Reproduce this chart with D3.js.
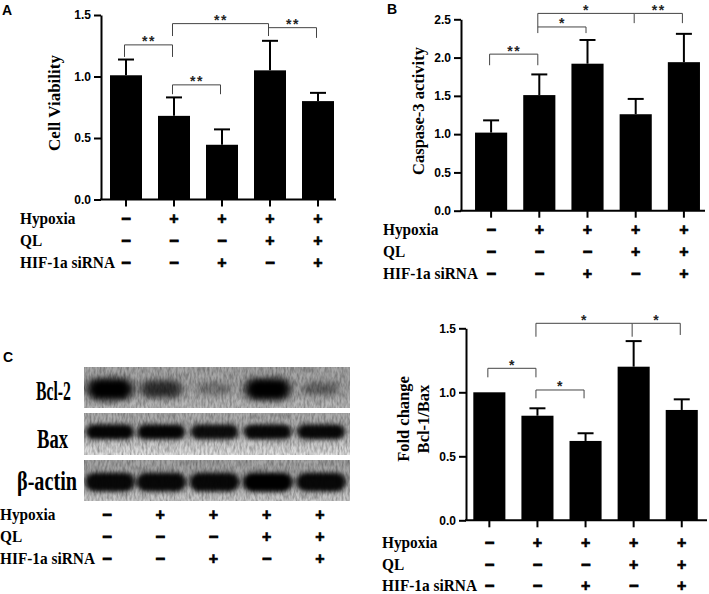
<!DOCTYPE html>
<html>
<head>
<meta charset="utf-8">
<script src="https://cdn.jsdelivr.net/npm/d3@7"></script>
<style>
body{margin:0;background:#fff}
.tick text{font-family:"Liberation Sans",Arial,sans-serif;font-weight:bold;font-size:12px;fill:#000}
.serif{font-family:"Liberation Serif","Times New Roman",serif;font-weight:bold;fill:#000}
.sans{font-family:"Liberation Sans",Arial,sans-serif;font-weight:bold;fill:#000}
</style>
</head>
<body>
<svg id="fig" width="709" height="594"></svg>
<script>
// treatment groups and the +/- table under each panel
var groups = ['ctrl', 'hyp', 'hyp_si', 'hyp_ql', 'hyp_ql_si']
var rowNames = ['Hypoxia', 'QL', 'HIF-1a siRNA']
var hypoxia = ['-', '+', '+', '+', '+']
var ql = ['-', '-', '-', '+', '+']
var sirna = ['-', '-', '+', '-', '+']

// A: cell viability (mean, upper SD)
var viability = [1.01, 0.68, 0.445, 1.05, 0.80]
var viabilityErr = [0.128, 0.15, 0.125, 0.24, 0.067]
// [from, to, label, bracket top, left leg end, right leg end] in data units
var viabilitySig = [
	[0, 1, '**', 1.257, 1.159, 1.159],
	[1, 3, '**', 1.43, 1.329, 1.329],
	[3, 4, '**', 1.397, null, 1.314],
	[1, 2, '**', 0.932, 0.856, 0.856]
]

// B: caspase-3 activity
var caspase = [1.02, 1.51, 1.92, 1.26, 1.94]
var caspaseErr = [0.16, 0.27, 0.31, 0.20, 0.37]
var caspaseSig = [
	[0, 1, '**', 2.045, 1.90, 1.90],
	[1, 2, '*', 2.40, null, 2.32],
	[1, 3, '*', 2.577, 2.32, 2.45],
	[3, 4, '**', 2.577, null, 2.45]
]

// C: western blot band intensities (relative darkness)
var bcl2Band = [1.0, 0.72, 0.32, 1.0, 0.42]
var baxBand = [0.97, 0.97, 0.92, 0.95, 0.95]
var actinBand = [0.95, 0.95, 0.95, 1.0, 0.95]

// D: Bcl-2/Bax fold change
var ratio = [1.0, 0.817, 0.62, 1.2, 0.862]
var ratioErr = [0, 0.058, 0.06, 0.2, 0.083]
var ratioSig = [
	[0, 1, '*', 1.1875, 1.117, 1.117],
	[1, 2, '*', 1.018, 0.953, 0.953],
	[1, 3, '*', 1.539, 1.434, 1.434],
	[3, 4, '*', 1.539, null, 1.448]
]

var svg = d3.select('svg#fig')

function panelLabel(txt, x, y){
	svg.append('text').attr('class', 'sans')
		.attr('x', x).attr('y', y)
		.style('font-size', '14px')
		.text(txt)
}

function signTable(xpos, labelX, baselines){
	var rows = [hypoxia, ql, sirna]
	var g = svg.append('g')
	rows.forEach(function(r, i){
		g.append('text').attr('class', 'serif')
			.attr('transform', 'translate(' + labelX + ',' + baselines[i] + ') scale(0.93,1)')
			.style('font-size', '16.5px')
			.text(rowNames[i])
		g.selectAll('text.sym' + i)
			.data(r)
			.enter()
			.append('text')
			.attr('class', 'sans sym' + i)
			.attr('x', function(d, k){return xpos(groups[k])})
			.attr('y', baselines[i])
			.attr('text-anchor', 'middle')
			.style('font-size', '16px')
			.style('stroke', '#000')
			.style('stroke-width', function(d){return d == '-' ? 1.1 : 0.6})
			.text(function(d){return d == '-' ? '\u2212' : '+'})
	})
}

function barPanel(cfg){
	var y = d3.scaleLinear().domain(cfg.yDomain).range(cfg.yRange)
	var x = d3.scaleBand().domain(groups).range(cfg.xRange)
		.paddingInner(1/3).paddingOuter(1/6)
	var cx = function(g){return x(g) + x.bandwidth()/2}
	var g = svg.append('g')

	g.selectAll('rect.bar')
		.data(cfg.values)
		.enter()
		.append('rect')
		.attr('class', 'bar')
		.attr('x', function(d, i){return x(groups[i])})
		.attr('width', x.bandwidth())
		.attr('y', function(d){return y(d)})
		.attr('height', function(d){return y(0) - y(d)})
		.style('fill', '#000')

	var eb = g.selectAll('g.err')
		.data(cfg.values.map(function(v, i){return {v: v, e: cfg.errs[i], g: groups[i]}})
			.filter(function(d){return d.e > 0}))
		.enter()
		.append('g')
		.attr('class', 'err')
	eb.append('line')
		.attr('x1', function(d){return cx(d.g)}).attr('x2', function(d){return cx(d.g)})
		.attr('y1', function(d){return y(d.v)}).attr('y2', function(d){return y(d.v + d.e)})
		.style('stroke', '#000').style('stroke-width', 2)
	eb.append('line')
		.attr('x1', function(d){return cx(d.g) - 8}).attr('x2', function(d){return cx(d.g) + 8})
		.attr('y1', function(d){return y(d.v + d.e)}).attr('y2', function(d){return y(d.v + d.e)})
		.style('stroke', '#000').style('stroke-width', 2)

	// y axis
	g.append('g')
		.attr('transform', 'translate(' + cfg.axisX + ',0)')
		.call(d3.axisLeft(y).tickValues(d3.range(0, cfg.yDomain[1] + 0.01, 0.5))
			.tickFormat(d3.format('.1f')).tickSize(7).tickSizeOuter(0).tickPadding(3))
	// x axis
	var xa = g.append('g')
		.attr('transform', 'translate(0,' + y(0) + ')')
		.call(d3.axisBottom(x).tickSize(7).tickSizeOuter(0).tickFormat(''))
	xa.select('.domain').attr('d', 'M' + (cfg.axisX - 1) + ',0H' + cfg.xEnd)
	g.selectAll('.domain, .tick line').style('stroke', '#000').style('stroke-width', 2)

	// significance brackets
	var br = g.selectAll('g.sig')
		.data(cfg.sig)
		.enter()
		.append('g')
		.attr('class', 'sig')
	br.append('path')
		.attr('d', function(d){
			var x1 = cx(groups[d[0]]) - 1.5, x2 = cx(groups[d[1]]) - 1.5
			var p = d[4] == null ? 'M' + x1 + ',' + y(d[3]) : 'M' + x1 + ',' + y(d[4]) + 'V' + y(d[3])
			p += 'H' + x2
			if(d[5] != null) p += 'V' + y(d[5])
			return p
		})
		.style('fill', 'none').style('stroke', '#444').style('stroke-width', 1)
	br.append('text').attr('class', 'sans')
		.attr('x', function(d){return (cx(groups[d[0]]) + cx(groups[d[1]]))/2 - 1})
		.attr('y', function(d){return y(d[3]) + 1.5})
		.attr('text-anchor', 'middle')
		.style('font-size', '14px')
		.style('letter-spacing', '1.5px')
		.style('fill', '#222')
		.text(function(d){return d[2]})

	// y title
	cfg.title.forEach(function(t, i){
		g.append('text').attr('class', 'serif')
			.attr('transform', 'translate(' + cfg.titleX[i] + ',' + cfg.titleY + ') rotate(-90)')
			.attr('text-anchor', 'middle')
			.style('font-size', cfg.titleSize + 'px')
			.text(t)
	})

	signTable(cx, cfg.rowX, cfg.rowY)
}

barPanel({
	values: viability, errs: viabilityErr, sig: viabilitySig,
	yDomain: [0, 1.5], yRange: [199.5, 15], xRange: [102, 342], axisX: 101, xEnd: 336,
	title: ['Cell Viability'], titleX: [60], titleY: 103, titleSize: 17,
	rowX: 20, rowY: [224, 246, 268]
})
barPanel({
	values: caspase, errs: caspaseErr, sig: caspaseSig,
	yDomain: [0, 2.5], yRange: [210.7, 19.3], xRange: [467, 708], axisX: 461, xEnd: 705,
	title: ['Caspase-3 activity'], titleX: [424], titleY: 111, titleSize: 16.5,
	rowX: 383, rowY: [235, 257, 279]
})
barPanel({
	values: ratio, errs: ratioErr, sig: ratioSig,
	yDomain: [0, 1.5], yRange: [520.3, 328.3], xRange: [465.3, 705.8], axisX: 466, xEnd: 707,
	title: ['Fold change', 'Bcl-1/Bax'], titleX: [409, 429], titleY: 419, titleSize: 16.5,
	rowX: 382, rowY: [548, 569.5, 591]
})

// C: western blot
var defs = svg.append('defs')
var grain = defs.append('filter').attr('id', 'grain')
	.attr('x', 0).attr('y', 0).attr('width', 1).attr('height', 1)
grain.append('feTurbulence').attr('type', 'fractalNoise')
	.attr('baseFrequency', '0.5 0.15').attr('numOctaves', 2).attr('seed', 4)
grain.append('feColorMatrix').attr('type', 'matrix')
	.attr('values', '0 0 0 0 0  0 0 0 0 0  0 0 0 0 0  0.6 0 0 0 -0.2')
function blurFilter(id, sd){
	defs.append('filter').attr('id', id)
		.attr('x', '-60%').attr('y', '-120%').attr('width', '220%').attr('height', '340%')
		.append('feGaussianBlur').attr('stdDeviation', sd)
}
blurFilter('blurSoft', '4 3.2')
blurFilter('blurSharp', '2.6 2.2')

var lanes = d3.scalePoint().domain(groups).range([108, 321])
var strips = [
	{name: 'Bcl-2', band: bcl2Band, top: 367, bottom: 408, c1: '#a6a6a6', c2: '#bababa', mid: 0.54,
		w: [30, 16], h: [6, 16], blur: 'blurSoft', labelEnd: 71, labelLen: 35, base: 400},
	{name: 'Bax', band: baxBand, top: 413, bottom: 455, c1: '#acacac', c2: '#e4e4e4', mid: 0.45,
		w: [42, 6], h: [10, 5], blur: 'blurSharp', labelEnd: 68, labelLen: 31, base: 448},
	{name: '\u03b2-actin', band: actinBand, top: 460, bottom: 501, c1: '#a4a4a4', c2: '#cecece', mid: 0.54,
		w: [44, 6], h: [14, 5], blur: 'blurSharp', labelEnd: 77, labelLen: 60, base: 490}
]
var blotG = svg.append('g')
strips.forEach(function(s, k){
	var grad = defs.append('linearGradient').attr('id', 'sg' + k)
		.attr('x1', 0).attr('x2', 0).attr('y1', 0).attr('y2', 1)
	grad.append('stop').attr('offset', '0%').attr('stop-color', s.c1)
	grad.append('stop').attr('offset', '45%').attr('stop-color', s.c1)
	grad.append('stop').attr('offset', '100%').attr('stop-color', s.c2)
	var clip = defs.append('clipPath').attr('id', 'clip' + k)
	clip.append('rect').attr('x', 84).attr('y', s.top).attr('width', 266).attr('height', s.bottom - s.top)

	var g = blotG.append('g').attr('clip-path', 'url(#clip' + k + ')')
	g.append('rect').attr('x', 84).attr('y', s.top).attr('width', 266).attr('height', s.bottom - s.top)
		.style('fill', 'url(#sg' + k + ')')
	g.append('rect').attr('x', 84).attr('y', s.top).attr('width', 266).attr('height', s.bottom - s.top)
		.attr('filter', 'url(#grain)')
	var mid = s.top + (s.bottom - s.top) * s.mid
	g.selectAll('rect.band')
		.data(s.band)
		.enter()
		.append('rect')
		.attr('class', 'band')
		.attr('x', function(d, i){return lanes(groups[i]) + (i == 0 ? 2 : 0) - (s.w[0] + s.w[1] * d)/2})
		.attr('width', function(d){return s.w[0] + s.w[1] * d})
		.attr('y', function(d){return mid - (s.h[0] + s.h[1] * d)/2})
		.attr('height', function(d){return s.h[0] + s.h[1] * d})
		.attr('rx', function(d){return (s.h[0] + s.h[1] * d)/2})
		.attr('filter', 'url(#' + s.blur + ')')
		.style('fill', '#000')
		.style('opacity', function(d){return d})

	blotG.append('text').attr('class', 'serif')
		.attr('x', s.labelEnd - s.labelLen).attr('y', s.base)
		.attr('textLength', s.labelLen).attr('lengthAdjust', 'spacingAndGlyphs')
		.style('font-size', '27px')
		.text(s.name)
})
signTable(function(g){return lanes(g) - 1}, 0, [520, 542, 564])

panelLabel('A', 2, 15)
panelLabel('B', 387, 13.5)
panelLabel('C', 3, 362)
</script>
</body>
</html>
